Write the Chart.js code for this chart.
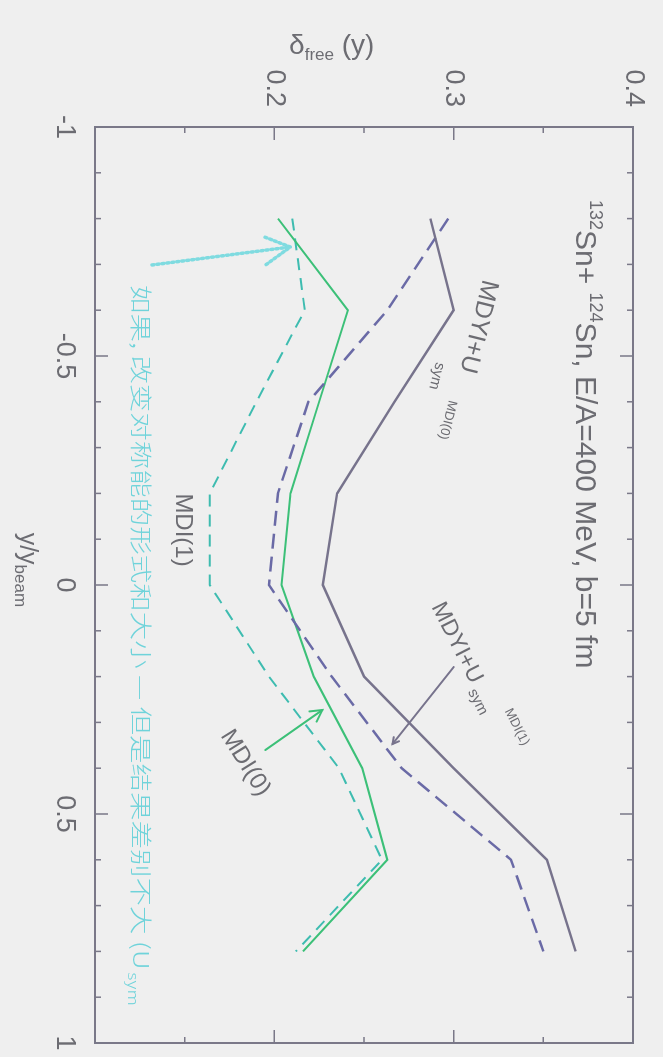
<!DOCTYPE html>
<html>
<head>
<meta charset="utf-8">
<title>delta_free vs rapidity</title>
<script src="https://cdn.jsdelivr.net/npm/chart.js@4/dist/chart.umd.min.js"></script>
<style>
  html, body { margin: 0; padding: 0; background: #efefef; overflow: hidden; }
  #wrap { position: relative; width: 663px; height: 1057px; overflow: hidden; }
  /* the plot is laid out landscape and turned a quarter turn clockwise */
  #c { position: absolute; left: 0; top: 0; transform-origin: 0 0;
       transform: translateX(663px) rotate(90deg); }
</style>
</head>
<body>
<div id="wrap"><canvas id="c" width="1057" height="663"></canvas></div>
<script>
// reduced rapidity y/y_beam
const rapidity = [-0.8, -0.6, -0.4, -0.2, 0, 0.2, 0.4, 0.6, 0.8];

// delta_free(y) for each calculation
const mdyiMdi0 = [0.287, 0.300, 0.267, 0.235, 0.227, 0.250, 0.300, 0.352, 0.368]; // MDYI+U_sym^MDI(0), solid
const mdyiMdi1 = [0.297, 0.263, 0.219, 0.202, 0.197, 0.232, 0.271, 0.332, 0.350]; // MDYI+U_sym^MDI(1), dashed
const mdi0     = [0.202, 0.241, 0.225, 0.209, 0.204, 0.222, 0.249, 0.263, 0.216]; // MDI(0), solid
const mdi1     = [0.210, 0.217, 0.190, 0.164, 0.164, 0.197, 0.236, 0.260, 0.212]; // MDI(1), dashed

// axis ticks
const xTickValues = [-1, -0.5, 0, 0.5, 1];
const yTickValues = [0.2, 0.3, 0.4];

const FONT = '"Liberation Sans", Arial, Helvetica, sans-serif';
const TEXT = '#6c6c72';
const FRAME = '#7a7888';

const toPoints = vals => rapidity.map((r, i) => ({ x: r, y: vals[i] }));

// curve labels: position in data units, rotation in degrees
const curveLabels = [
  { text: 'MDYI+U', x: -0.5644, y: 0.3137, size: 25, angle: 14 },
  { text: 'sym',    x: -0.4563, y: 0.2905, size: 15, angle: 14 },
  { text: 'MDI(0)', x: -0.3603, y: 0.2966, size: 13, angle: 14 },
  { text: 'MDYI+U', x: 0.1266,  y: 0.3017, size: 23, angle: -27 },
  { text: 'sym',    x: 0.2555,  y: 0.3134, size: 15, angle: -27 },
  { text: 'MDI(1)', x: 0.3100,  y: 0.3352, size: 13, angle: -27 },
  { text: 'MDI(1)', x: -0.1200, y: 0.1486, size: 24, angle: 0 },
  { text: 'MDI(0)', x: 0.3886,  y: 0.1838, size: 24, angle: -32 }
];

const arrows = [
  { from: [0.179, 0.300],   to: [0.3472, 0.2659], color: '#77738c', width: 2,   head: 7,  dash: [] },
  { from: [0.3603, 0.195],  to: [0.2729, 0.2268], color: '#3cc078', width: 2,   head: 13, dash: [] },
  { from: [-0.6987, 0.1318], to: [-0.738, 0.2089], color: '#7fdbe0', width: 3.5, head: 30, dash: [2, 3] }
];

const noteText = '如果, 改变对称能的形式和大小 — 但是结果差别不大 (U';
const noteSub = 'sym';

function drawArrow(ctx, x0, y0, x1, y1, a) {
  ctx.save();
  ctx.strokeStyle = a.color;
  ctx.lineWidth = a.width;
  ctx.lineCap = 'round';
  ctx.setLineDash(a.dash);
  ctx.beginPath(); ctx.moveTo(x0, y0); ctx.lineTo(x1, y1); ctx.stroke();
  const ang = Math.atan2(y1 - y0, x1 - x0);
  ctx.beginPath();
  ctx.moveTo(x1 - a.head * Math.cos(ang - 0.5), y1 - a.head * Math.sin(ang - 0.5));
  ctx.lineTo(x1, y1);
  ctx.lineTo(x1 - a.head * Math.cos(ang + 0.5), y1 - a.head * Math.sin(ang + 0.5));
  ctx.stroke();
  ctx.restore();
}

const decorations = {
  id: 'decorations',
  afterDatasetsDraw(chart) {
    const { ctx, chartArea: a, scales: { x, y } } = chart;
    ctx.save();

    // box with inward ticks on every side
    ctx.strokeStyle = FRAME;
    ctx.lineWidth = 2;
    ctx.strokeRect(a.left, a.top, a.right - a.left, a.bottom - a.top);
    ctx.lineWidth = 1.5;
    ctx.beginPath();
    for (let i = 0; i <= 20; i++) {
      const px = x.getPixelForValue(-1 + i * 0.1);
      const len = i % 5 === 0 ? 13 : 6;
      ctx.moveTo(px, a.bottom); ctx.lineTo(px, a.bottom - len);
      ctx.moveTo(px, a.top); ctx.lineTo(px, a.top + len);
    }
    for (let i = 0; i <= 6; i++) {
      const py = y.getPixelForValue(0.1 + i * 0.05);
      const len = i % 2 === 0 ? 13 : 6;
      ctx.moveTo(a.left, py); ctx.lineTo(a.left + len, py);
      ctx.moveTo(a.right, py); ctx.lineTo(a.right - len, py);
    }
    ctx.stroke();

    // axis titles
    ctx.fillStyle = TEXT;
    ctx.textBaseline = 'alphabetic';
    ctx.textAlign = 'left';
    // y axis: delta_free (y)
    ctx.save();
    ctx.translate(54, y.getPixelForValue(0.232));
    ctx.rotate(-Math.PI / 2);
    const big = '28px ' + FONT, small = '17px ' + FONT;
    ctx.font = big; const w1 = ctx.measureText('δ').width;
    ctx.font = small; const w2 = ctx.measureText('free').width;
    ctx.font = big; const w3 = ctx.measureText(' (y)').width;
    let cx = -(w1 + w2 + w3) / 2;
    ctx.font = big; ctx.fillText('δ', cx, 0); cx += w1;
    ctx.font = small; ctx.fillText('free', cx, 6); cx += w2;
    ctx.font = big; ctx.fillText(' (y)', cx, 0);
    ctx.restore();

    // x axis: y/y_beam
    {
      const base = 643;
      ctx.font = '25px ' + FONT; const v1 = ctx.measureText('y/y').width;
      ctx.font = '17px ' + FONT; const v2 = ctx.measureText('beam').width;
      let sx = x.getPixelForValue(-0.033) - (v1 + v2) / 2;
      ctx.font = '25px ' + FONT; ctx.fillText('y/y', sx, base); sx += v1;
      ctx.font = '17px ' + FONT; ctx.fillText('beam', sx, base + 5);
    }

    // reaction description
    {
      let sx = x.getPixelForValue(-0.8406);
      const base = y.getPixelForValue(0.3682);
      const parts = [['132', 18, -14], ['Sn+ ', 30, 0], ['124', 18, -14], ['Sn, E/A=400 MeV, b=5 fm', 30, 0]];
      for (const [t, s, dy] of parts) {
        ctx.font = s + 'px ' + FONT;
        ctx.fillText(t, sx, base + dy);
        sx += ctx.measureText(t).width;
      }
    }

    // curve labels
    ctx.textAlign = 'center';
    ctx.textBaseline = 'middle';
    for (const l of curveLabels) {
      ctx.save();
      ctx.translate(x.getPixelForValue(l.x), y.getPixelForValue(l.y));
      ctx.rotate(l.angle * Math.PI / 180);
      ctx.font = l.size + 'px ' + FONT;
      ctx.fillText(l.text, 0, 0);
      ctx.restore();
    }

    // arrows
    for (const ar of arrows) {
      drawArrow(ctx,
        x.getPixelForValue(ar.from[0]), y.getPixelForValue(ar.from[1]),
        x.getPixelForValue(ar.to[0]), y.getPixelForValue(ar.to[1]), ar);
    }

    // handwritten note along the bottom of the box
    {
      const x0 = x.getPixelForValue(-0.655), x1 = x.getPixelForValue(0.84);
      const base = y.getPixelForValue(0.126);
      ctx.font = '300 22px "Noto Sans CJK SC", sans-serif';
      const wMain = ctx.measureText(noteText).width;
      const k = (x1 - x0) / wMain;
      ctx.save();
      ctx.translate(x0, base);
      ctx.scale(k, 1);
      ctx.fillStyle = '#6fd3da';
      ctx.textAlign = 'left';
      ctx.font = '300 22px "Noto Sans CJK SC", sans-serif';
      ctx.fillText(noteText, 0, 0);
      ctx.font = '300 14px "Noto Sans CJK SC", sans-serif';
      ctx.fillText(noteSub, wMain + 2, 8);
      ctx.restore();
    }
    ctx.restore();
  }
};

new Chart(document.getElementById('c'), {
  type: 'line',
  data: {
    datasets: [
      { label: 'MDYI+U_sym^MDI(0)', data: toPoints(mdyiMdi0), borderColor: '#77738c', borderWidth: 2.5, borderDash: [] },
      { label: 'MDYI+U_sym^MDI(1)', data: toPoints(mdyiMdi1), borderColor: '#6a6aa6', borderWidth: 2.5, borderDash: [15, 8] },
      { label: 'MDI(0)', data: toPoints(mdi0), borderColor: '#3cc078', borderWidth: 2, borderDash: [] },
      { label: 'MDI(1)', data: toPoints(mdi1), borderColor: '#3ebcb0', borderWidth: 2, borderDash: [12, 8] }
    ]
  },
  options: {
    responsive: false,
    animation: false,
    devicePixelRatio: 1,
    layout: { padding: { top: 30, right: 14, left: 0, bottom: 0 } },
    elements: { point: { radius: 0 }, line: { tension: 0, fill: false } },
    plugins: { legend: { display: false }, tooltip: { enabled: false }, title: { display: false } },
    scales: {
      x: {
        type: 'linear', min: -1, max: 1,
        afterFit(s) { s.height = 95; s.paddingLeft = 0; s.paddingRight = 0; },
        afterBuildTicks(s) { s.ticks = xTickValues.map(v => ({ value: v })); },
        grid: { display: false, drawTicks: false },
        border: { display: false },
        ticks: { padding: 14, color: TEXT, font: { family: FONT, size: 27 }, maxRotation: 0,
                 callback: v => String(v) }
      },
      y: {
        type: 'linear', min: 0.1, max: 0.4,
        afterFit(s) { s.width = 127; s.paddingTop = 0; s.paddingBottom = 0; },
        afterBuildTicks(s) { s.ticks = yTickValues.map(v => ({ value: v })); },
        grid: { display: false, drawTicks: false },
        border: { display: false },
        ticks: { padding: 20, color: TEXT, font: { family: FONT, size: 27 },
                 callback: v => v.toFixed(1) }
      }
    }
  },
  plugins: [decorations]
});
</script>
</body>
</html>
